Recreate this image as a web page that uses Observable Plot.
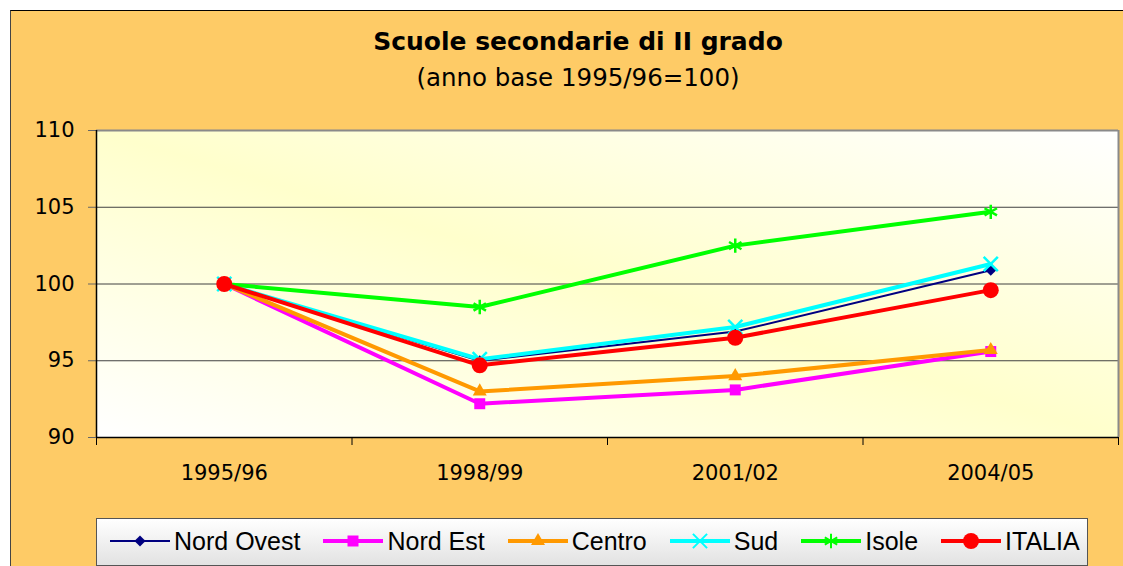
<!DOCTYPE html>
<html>
<head>
<meta charset="utf-8">
<script src="https://cdn.jsdelivr.net/npm/d3@7"></script>
<script src="https://cdn.jsdelivr.net/npm/@observablehq/plot@0.6"></script>
<style>
  html, body { margin: 0; padding: 0; background: #fff; }
  body { position: relative; width: 1123px; height: 566px; overflow: hidden; }
  #bg { position: absolute; left: 10px; top: 10px; right: 0; bottom: 0; background: #FECB66;
        border-top: 1.5px solid #000; border-left: 1px solid #444; }
  .title { position: absolute; left: 78px; width: 1000px; text-align: center; font-family: "DejaVu Sans", sans-serif; color: #000; white-space: nowrap; }
  #t1 { top: 27px; font-size: 25px; font-weight: bold; line-height: 30px; }
  #t2 { top: 63px; font-size: 24.5px; line-height: 30px; }
  #chart { position: absolute; left: 0; top: 100px; }
  #legend { position: absolute; left: 96px; top: 518px; width: 992px; height: 48px; box-sizing: border-box;
            border: 1.5px solid #555; background: linear-gradient(#ffffff, #e2e2e2);
            display: flex; align-items: center; padding-left: 13px; gap: 23px; padding-bottom: 2px;
            font-family: "Liberation Sans", Arial, sans-serif; font-size: 25px; color: #000; }
  .item { display: flex; align-items: center; white-space: nowrap; }
  .item svg { margin-right: 4px; }
</style>
</head>
<body>
<div id="bg"></div>
<div class="title" id="t1">Scuole secondarie di II grado</div>
<div class="title" id="t2">(anno base 1995/96=100)</div>
<div id="chart"></div>
<div id="legend"></div>
<script>
// ---- data ----
const categories = ["1995/96", "1998/99", "2001/02", "2004/05"];
const nordOvest = [100, 95.0, 96.9, 100.9];
const nordEst   = [100, 92.2, 93.1, 95.6];
const centro    = [100, 93.0, 94.0, 95.7];
const sud       = [100, 95.1, 97.2, 101.3];
const isole     = [100, 98.5, 102.5, 104.7];
const italia    = [100, 94.7, 96.5, 99.6];
const yTicks = [90, 95, 100, 105, 110];
const seriesNames = ["Nord Ovest", "Nord Est", "Centro", "Sud", "Isole", "ITALIA"];

// ---- styles ----
const seriesValues = [nordOvest, nordEst, centro, sud, isole, italia];
const colors  = ["#000080", "#FF00FF", "#FF9900", "#00FFFF", "#00FF00", "#FF0000"];
const widths  = [2, 4, 4, 4, 4, 4];
const symbols = ["diamond2", "square", "triangle", "times", "asterisk", "circle"];
const d3sym   = [d3.symbolDiamond2, d3.symbolSquare, d3.symbolTriangle, d3.symbolTimes, d3.symbolAsterisk, d3.symbolCircle];
const radii   = [5, 6.2, 5.2, 6.5, 6.8, 8];
const strokeOnly = [false, false, false, true, true, false];

const series = seriesNames.map((name, k) => ({
  name, color: colors[k], width: widths[k], symbol: symbols[k], r: radii[k], strokeOnly: strokeOnly[k],
  rows: seriesValues[k].map((v, i) => ({ serie: name, i, v }))
}));

const seriesMarks = series.flatMap(s => [
  Plot.line(s.rows, { x: "i", y: "v", stroke: s.color, strokeWidth: s.width }),
  s.strokeOnly
    ? Plot.dot(s.rows, { x: "i", y: "v", symbol: s.symbol, r: s.r, stroke: s.color, strokeWidth: 2.5, fill: "none" })
    : Plot.dot(s.rows, { x: "i", y: "v", symbol: s.symbol, r: s.r, fill: s.color, stroke: "none" })
]);

const chart = Plot.plot({
  width: 1123,
  height: 400,
  marginLeft: 96,
  marginRight: 5,
  marginTop: 30,
  marginBottom: 63,
  style: { background: "transparent", fontFamily: "DejaVu Sans", fontSize: "21px", color: "#000", overflow: "visible" },
  x: { domain: [-0.5, categories.length - 0.5], axis: null },
  y: { domain: [90, 110], axis: null },
  marks: [
    Plot.frame({ fill: "url(#plotBg)", stroke: "none" }),
    Plot.ruleY([95, 100, 105], { stroke: "#404040", strokeWidth: 1 }),
    Plot.ruleY([110], { stroke: "#8a8a8a", strokeWidth: 2 }),
    Plot.ruleX([categories.length - 0.5], { stroke: "#8a8a8a", strokeWidth: 2 }),
    Plot.axisY({ ticks: yTicks, tickSize: 8, tickPadding: 14, stroke: "#666", label: null, fontSize: 21 }),
    Plot.axisX({ ticks: d3.range(-0.5, categories.length, 1), tickSize: 8, tickFormat: () => "", label: null, stroke: "#000" }),
    Plot.axisX({ ticks: d3.range(categories.length), tickSize: 0, tickPadding: 28, tickFormat: i => categories[i], label: null, fontSize: 21 }),
    Plot.ruleX([-0.5], { stroke: "#000", strokeWidth: 1.5 }),
    Plot.ruleY([90], { stroke: "#000", strokeWidth: 1.5 }),
    ...seriesMarks
  ]
});

d3.select(chart).insert("defs", ":first-child").html(
  `<linearGradient id="plotBg" x1="1" y1="0" x2="0" y2="1">
     <stop offset="0" stop-color="#ffffff"/>
     <stop offset="0.5" stop-color="#FFFFCC"/>
     <stop offset="1" stop-color="#ffffff"/>
   </linearGradient>`);
document.getElementById("chart").appendChild(chart);

// ---- legend ----
const legend = d3.select("#legend");
series.forEach((s, k) => {
  const item = legend.append("div").attr("class", "item");
  const sw = item.append("svg").attr("width", 60).attr("height", 22);
  sw.append("line").attr("x1", 0).attr("x2", 60).attr("y1", 11).attr("y2", 11)
    .attr("stroke", s.color).attr("stroke-width", s.width);
  const p = sw.append("path")
    .attr("transform", "translate(30,11)")
    .attr("d", d3.symbol(d3sym[k], Math.PI * s.r * s.r)());
  if (s.strokeOnly) p.attr("fill", "none").attr("stroke", s.color).attr("stroke-width", 2);
  else p.attr("fill", s.color);
  item.append("span").text(s.name);
});
</script>
</body>
</html>
